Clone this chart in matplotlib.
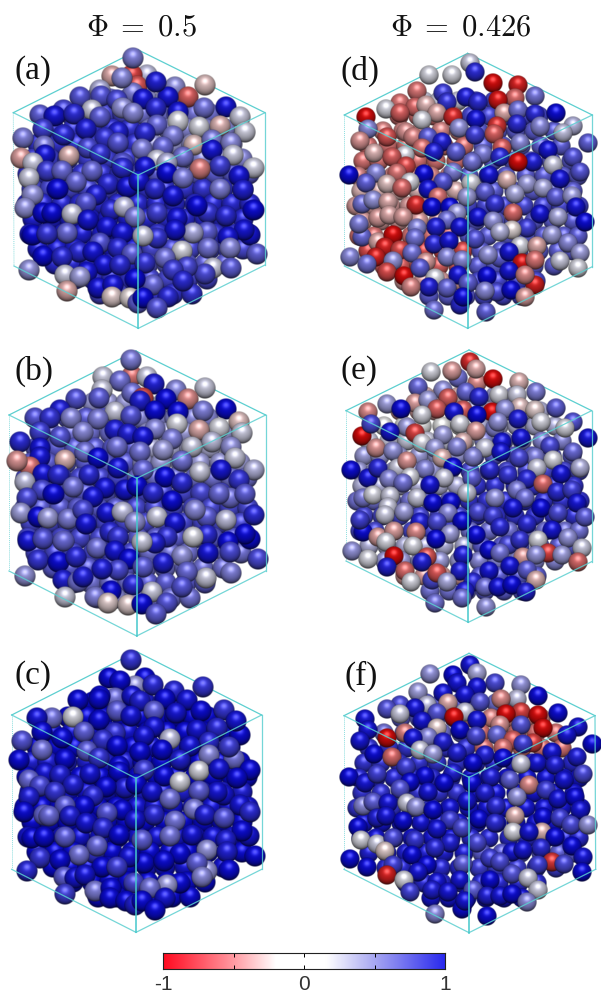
import numpy as np
import matplotlib
matplotlib.use("Agg")
import matplotlib.pyplot as plt
from matplotlib.colors import LinearSegmentedColormap

# spheres are (x, y, value) at 3x zoom, back to front
panel_a = [
    (335,228,-.25),(440,225,.15),(395,225,-.75),(525,262,.35),(412,258,-.65),(615,255,-.15),
    (300,270,.2),(400,280,.45),(565,290,-.6),(240,290,.65),(303,288,.65),(350,300,.7),(430,298,.95),(503,290,.95),
    (612,325,.5),(678,322,.95),(468,325,.85),(535,335,.95),(275,330,.1),(365,325,.35),(398,340,.4),(300,350,.6),
    (120,345,.6),(190,330,.7),(163,348,.95),(222,343,.85),
    (720,352,.1),(660,378,-.2),(735,395,.08),(535,365,.05),(598,382,.05),(472,375,.55),
    (258,388,.9),(355,395,.9),(435,400,.85),(130,388,.75),(190,405,.85),(70,415,.45),
    (520,408,.45),(582,435,-.15),(635,420,.45),(692,430,.4),(700,465,.1),
    (315,415,.8),(355,430,.65),(425,448,.45),(490,440,.55),(265,445,.7),(300,462,.8),(133,438,.45),
    (135,465,.95),(63,473,-.3),(207,468,-.2),(100,490,.1),
    (635,450,.95),(760,503,.08),(660,497,.75),(600,507,-.45),(550,470,.5),
    (365,490,.65),(470,480,.1),(500,490,.2),(365,505,.85),(435,500,.95),(500,520,1),
    (140,512,.75),(185,513,.55),(275,512,.55),(88,533,.1),(718,528,.95),(548,535,.45),
    (95,585,.35),(228,547,.55),(172,568,1),(325,553,.85),(380,560,.95),(417,543,.95),(465,566,.85),
    (660,568,.45),(730,570,.9),(288,585,.9),(257,610,.65),(518,588,.95),
    (76,625,.35),(625,640,.8),(590,618,1),(760,630,1),(678,648,.85),(332,630,.85),(372,622,.15),
    (470,638,.75),(128,640,1),(155,640,1),(215,642,.1),(265,660,.95),(405,650,.45),(530,655,.95),
    (95,705,1),(200,700,.55),(140,702,.8),(320,680,.95),(365,698,.95),(750,705,.95),(733,690,.95),
    (685,710,.95),(620,695,.6),(580,700,.25),(525,690,.95),(470,715,.8),(430,708,.1),
    (300,728,.65),(355,745,.85),(238,755,.85),(130,768,1),(185,770,.85),(280,755,.95),
    (625,745,.5),(545,752,.05),(690,745,.4),(495,775,.5),(395,762,.6),(770,762,.6),
    (435,790,.8),(88,810,.35),(640,805,.1),(692,803,.6),(615,822,.7),(312,795,.95),(360,795,.85),(262,815,.95),
    (195,825,.1),(240,830,.3),(560,800,.7),(520,810,.75),
    (460,855,.55),(295,865,.95),(338,855,.95),(405,838,1),(548,842,.85),(202,873,-.25),(335,890,-.1),(390,895,-.05),
    (505,890,.85),(415,910,.6),(430,895,1),(470,923,.65),
    (398,175,.45),(367,235,.4),(468,247,.9),
]

panel_b = [
    (310,125,.1),(395,122,-.5),(440,125,.1),(393,75,.45),(360,137,.5),
    (615,160,.1),(527,165,.4),(463,147,.9),(395,175,.5),(305,165,.1),(430,190,-.7),(565,193,-.4),(228,193,.65),(298,190,.6),(420,198,.9),(497,192,1),
    (610,228,.45),(678,222,1),(180,225,.9),(345,230,.1),(393,242,.65),(465,228,1),(533,232,1),(105,250,.65),(150,250,.8),(213,250,.4),(295,253,.45),(718,260,-.15),(530,268,.05),(465,282,.4),(657,280,.05),(597,285,-.25),(250,290,.4),(725,295,.1),(180,305,.65),(120,290,.75),(60,320,.85),(345,285,.9),(385,298,.9),(430,305,.95),
    (635,322,.15),(515,312,.45),(575,335,.1),(692,335,.35),(705,370,.1),(350,335,.5),(255,350,.5),(488,345,.3),(420,350,.5),(120,340,.95),(120,365,.95),(295,370,1),(195,375,-.2),(90,395,-.5),(50,378,-.35),
    (545,378,.5),(430,405,.55),(600,410,.1),(662,405,.95),(762,405,.2),(355,400,.95),(268,420,.85),(130,418,.95),(175,420,.85),(75,440,.15),(495,427,1),(545,445,.85),(717,435,.8),
    (218,455,.5),(315,460,.95),(375,465,.95),(410,452,1),(125,465,.7),(278,487,.95),(160,477,1),(460,475,.85),(515,497,1),(82,490,.7),(690,490,.5),(657,477,.55),(735,477,.6),
    (62,533,.3),(115,545,1),(143,548,.3),(205,553,.45),(250,525,.7),(320,535,.95),(365,530,.15),(470,545,.1),(620,545,.6),(585,525,.4),(762,540,.85),(678,555,.15),(405,562,.35),(525,565,.95),(257,568,.95),
    (85,618,.95),(128,612,.65),(190,618,.55),(290,640,.5),(330,590,.85),(355,605,.8),(500,605,.8),(750,612,1),(735,597,1),(685,620,1),(620,600,.85),(580,605,.05),(465,625,.9),(425,620,.1),
    (115,675,.8),(175,682,1),(228,665,.85),(345,648,.95),(388,672,1),(545,662,.35),(625,655,.95),(690,650,.7),(490,685,.9),(430,695,.6),(773,672,.7),(355,705,.7),(305,703,.9),
    (75,722,.35),(188,735,.9),(235,742,.5),(250,727,.9),(692,715,.45),(618,730,.1),(560,710,.55),(455,770,.1),(398,750,.85),(333,768,1),(545,755,.65),(195,785,.1),(285,785,.45),(500,805,.65),(325,805,-.1),(385,810,-.1),(425,808,1),(467,838,.6),
]

panel_c = [
    (325,115,1),(435,115,1),(405,140,.3),(360,123,1),(458,135,.85),(607,143,.8),(392,62,.8),
    (520,155,.85),(345,175,.5),(395,170,.95),(420,185,.9),(495,178,1),(232,180,1),(298,170,1),(560,180,.95),(295,178,1),
    (672,212,.8),(603,215,1),(527,220,.95),(460,215,.6),(350,215,.6),(392,230,.95),(155,235,.5),(217,232,.05),(110,235,.95),(720,285,1),(708,245,.95),(295,240,1),
    (590,270,.95),(650,265,.85),(462,262,.95),(250,278,.6),(345,280,.8),(430,290,.95),(125,277,1),(510,298,.15),(65,305,.65),(185,295,1),(308,302,.8),(625,307,.85),
    (700,358,.5),(625,345,.4),(685,322,.75),(125,330,.5),(260,335,.6),(350,320,1),(420,337,1),(485,330,1),(570,320,.95),(297,355,.8),(195,357,1),(57,362,1),
    (540,362,.9),(750,390,1),(595,395,.05),(655,388,.95),(430,390,.75),(357,380,1),(355,398,1),(490,410,1),(710,415,1),(133,400,.95),(180,405,.9),(270,403,.95),(85,422,.55),
    (540,428,.05),(375,445,.9),(408,433,1),(218,435,.9),(318,443,1),(455,457,.95),(672,465,.95),(650,458,.95),(120,440,.7),(165,458,.8),(87,472,.9),(278,470,.85),(595,455,.6),(510,478,.5),
    (580,508,.45),(720,495,.95),(250,500,1),(195,500,.6),(70,517,1),(365,512,1),(130,525,.55),(145,530,.55),(210,530,.9),(460,525,.85),(320,520,.65),(750,518,.85),(615,525,.9),(670,535,.65),
    (523,545,.5),(258,550,.95),(405,540,.95),(95,595,1),(130,592,1),(195,592,.6),(308,565,.85),(357,587,1),(745,590,.95),(725,575,1),(575,585,.95),(425,600,.6),(510,590,.5),(677,600,.9),
    (280,640,.8),(290,618,.55),(620,632,.35),(235,645,.5),(680,638,.9),(540,642,1),(120,655,.8),(180,660,1),(430,670,1),(385,652,.95),(490,665,1),(763,650,1),
    (305,682,1),(350,682,.75),(620,695,.35),(590,670,.6),(605,712,.4),(685,692,1),(540,730,1),(80,695,.85),(190,712,.6),(225,715,.95),(255,705,.95),(500,735,.3),(400,730,.7),(450,745,.5),
    (285,755,.45),(333,745,1),(195,762,.75),(330,775,1),(378,785,1),(495,775,.95),(405,795,.9),(425,785,1),(463,812,1),
]

panel_d = [
    (510,190,.1),(387,225,.05),(455,225,.05),(525,217,.85),(578,250,-1),(655,255,-.9),(352,272,-.5),(430,280,.75),(440,305,.8),(497,290,.9),(705,288,.5),(535,305,.85),(645,295,-.55),(595,300,-.95),
    (300,310,-.5),(258,328,.05),(345,322,-.55),(300,340,-.6),(378,315,-.2),(410,338,-.25),(612,340,-.25),(655,330,.5),(705,342,.85),(767,338,1),(197,352,-1),(365,360,.05),(458,350,-.85),(527,358,.95),
    (590,378,-.8),(652,372,.85),(720,380,.4),(820,378,.2),(790,400,.15),(865,428,.6),(205,387,.4),
    (477,385,.35),(583,402,-.6),(525,405,.75),(180,422,-.35),(262,410,-.65),(318,395,-.35),(340,412,-.4),(385,410,.6),(425,425,.9),
    (660,428,.4),(745,450,.95),(605,445,-.6),(365,445,-.5),(222,458,-.2),(315,465,.05),(275,470,-.6),(403,457,.9),(467,457,.6),
    (820,470,.65),(700,485,.9),(550,462,.45),(600,470,.85),(515,485,.5),(655,485,-1),(318,497,-.7),(760,495,.1),
    (148,525,1),(228,518,.4),(840,517,.65),(292,520,-.5),(460,515,.45),(372,523,1),(568,525,.95),(622,540,-.2),(780,538,.95),
    (197,548,.6),(260,552,-.15),(330,545,.05),(430,547,.65),(512,548,.05),(305,565,-.55),(385,568,.95),(680,552,.3),(728,565,.25),(555,575,.6),
    (185,612,.5),(218,600,.35),(265,605,-.25),(645,582,.25),(768,590,.6),(815,587,.3),(500,590,.3),(415,590,-.5),(585,612,.8),(828,622,.95),(347,615,-.85),(395,622,1),(450,620,1),
    (640,640,-.55),(720,642,.95),(235,655,-.3),(268,645,-.25),(310,652,-.3),(470,640,.3),(535,650,.95),(440,660,.5),(578,662,.35),(773,652,.25),(855,665,1),
    (185,710,.55),(177,673,.45),(352,683,.4),(408,680,.9),(480,680,.95),(680,685,.75),(635,690,-.05),(600,695,.2),(235,725,-.25),(278,705,-1),(345,715,.5),(755,705,.3),
    (525,718,.65),(403,733,.85),(447,722,.95),(805,730,.4),(660,738,.05),(712,738,-.25),(255,742,-.9),(840,760,.3),(300,750,-.7),
    (228,770,-.9),(150,770,.4),(200,792,.5),(335,760,.5),(280,783,.35),(377,785,-.3),(440,770,.4),(485,780,.4),(600,775,.6),(563,765,.35),(628,757,.95),(665,790,-.95),(705,780,-.5),(780,783,.1),(833,803,.05),
    (260,815,-.7),(313,828,-1),(360,805,.6),(405,835,.05),(475,825,.95),(562,828,1),(628,812,.95),(705,855,-.9),(675,825,-.4),
    (387,860,.9),(332,860,-.4),(440,865,.55),(505,850,.6),(590,875,.7),(555,873,.4),(632,870,1),(675,892,-.3),(480,915,.85),(490,890,1),(403,930,.5),(557,935,.6),
]

panel_e = [
    (510,80,-.85),(392,110,.05),(475,130,.5),(457,108,-.3),(530,145,-.4),(528,103,-.25),(580,132,-1),(658,140,-.2),(355,155,.55),(430,165,.35),(445,190,-.6),(498,170,.55),(708,170,.45),(598,180,.05),(650,180,.1),(538,187,.85),
    (345,205,-.3),(262,207,.3),(385,195,.3),(412,222,-.6),(303,223,1),(490,225,-.6),(575,230,-1),(660,215,-.15),(705,225,-.1),(615,222,.35),(768,220,.6),(203,232,-.4),(463,232,.95),(530,240,1),(367,240,.05),
    (820,260,.65),(655,252,.9),(585,280,.4),(595,262,.35),(723,260,.05),(480,267,.05),(528,287,-.3),(320,275,.3),(185,302,-1),(212,267,.7),(270,290,.95),(345,295,-.75),(795,280,.05),(430,300,.3),(865,310,.95),
    (662,310,.95),(607,322,.95),(228,340,-.35),(280,348,.35),(365,325,.05),(490,320,-.2),(405,340,.3),(470,337,.4),(750,332,.7),(555,340,.1),(820,350,.55),(602,350,.95),(425,370,-.2),(520,365,.4),(705,365,.45),(657,368,.7),
    (760,375,.05),(295,400,.1),(320,377,-.35),(153,405,1),(205,430,.95),(233,400,.85),(375,403,.4),(460,395,1),(570,405,.85),(710,400,.1),(840,398,.2),(625,420,.8),(682,432,.85),(730,447,-.55),
    (268,432,.4),(330,425,.05),(433,428,.1),(515,428,.6),(782,418,.95),(310,445,.5),(390,450,.95),(650,465,.45),(500,475,.1),(770,472,.85),(815,465,.75),(585,490,.35),
    (190,490,.45),(220,480,.05),(270,483,.1),(350,490,.1),(265,515,.1),(400,503,1),(453,500,1),(830,505,.95),(675,490,.5),(535,530,.7),(640,520,.95),(722,520,1),(775,533,.7),(255,540,.1),(313,532,.3),(445,535,.4),
    (190,590,1),(180,555,.75),(855,545,.6),(360,560,.9),(410,560,.7),(485,558,1),(578,543,.75),(600,575,.85),(680,568,.85),(755,585,.95),(235,605,-.3),(283,587,-.3),(347,592,-.4),(527,600,1),(450,598,.3),(407,613,1),(805,608,.35),(625,630,.7),
    (258,622,.05),(660,615,.8),(715,615,.05),(338,632,.05),(155,648,.35),(845,640,.1),(567,645,1),(490,660,.9),(205,672,.05),(283,662,-1),(382,665,-.65),(745,653,-.75),(670,665,-.3),(708,660,.35),(785,660,.3),(600,655,.5),(835,682,-.55),
    (365,680,.9),(262,695,.9),(315,708,-.55),(630,692,.95),(680,705,.6),(568,708,.95),(395,735,.7),(410,715,-.65),(480,708,.9),(708,735,-.2),(333,740,.05),(442,742,.25),(520,740,.85),(555,755,.5),(595,755,.95),(635,750,1),(678,770,.9),(495,768,.9),
    (485,790,.5),(405,805,.5),(558,815,.35),
]

panel_f = [
    (510,75,.95),(390,103,.35),(460,105,1),(530,98,.25),(470,130,.95),(585,130,.7),(530,140,.95),(663,135,.35),(355,155,.3),(430,160,.95),(495,165,.95),(650,178,.15),(715,168,1),(443,188,-.25),(603,178,-.4),(540,187,.65),(300,195,.7),(380,195,.15),(262,207,.65),(345,205,.95),(495,215,.1),(775,220,1),(662,215,-.75),(617,222,-1),(713,225,-1),(412,220,.65),
    (195,238,.95),(300,222,.1),(463,232,-1),(365,242,.95),(530,240,.95),(835,262,.95),(600,255,-.35),(662,255,.65),(728,265,-1),(205,270,.95),(315,280,-.45),(410,265,-.1),(480,270,1),(590,285,.55),(527,287,.7),(800,285,.95),(180,303,.95),(262,295,-1),(385,290,.4),(340,295,.95),(700,310,-.75),(640,300,-.6),(875,312,1),(430,305,.9),
    (610,325,-.5),(668,312,.75),(755,335,.95),(360,330,.1),(400,342,.3),(470,340,.9),(222,343,1),(275,352,-.55),(555,345,.9),(830,352,.9),(610,353,1),(520,368,1),(318,380,.75),(710,370,.95),(662,372,.1),(765,375,.9),
    (147,410,1),(195,430,.95),(230,403,.75),(375,408,1),(460,400,.9),(572,410,.9),(850,402,.7),(792,420,.95),(330,427,1),(432,428,1),(687,435,-.4),(630,420,.6),(517,430,1),(300,448,.65),(737,450,.75),(385,455,.95),(555,460,.9),(775,478,.95),(826,472,1),(650,470,.35),(500,482,.95),
    (190,497,.4),(220,487,.6),(265,490,.95),(320,490,.1),(347,500,.35),(450,505,.95),(400,510,1),(588,498,.85),(840,510,.95),(230,535,.9),(258,528,.95),(645,527,-.2),(728,530,1),(537,537,1),(310,542,1),(780,535,.75),(812,555,.7),(865,555,.35),
    (450,540,.75),(585,550,.85),(175,562,1),(410,567,.95),(485,565,.7),(640,575,.05),(725,575,-.2),(688,575,.95),(765,592,1),(183,600,.05),(232,612,.1),(280,595,.7),(345,600,.8),(255,632,-.1),(530,608,.7),(450,608,.9),(815,618,1),(722,625,.85),(405,625,.85),
    (150,658,1),(850,650,.95),(635,635,.95),(670,630,.95),(335,645,1),(570,655,.75),(755,665,-.8),(792,672,.7),(200,682,1),(280,675,.75),(380,675,1),(600,665,.7),(490,672,.6),(715,675,.75),(845,695,1),
    (260,705,-.9),(355,695,.95),(312,720,.05),(635,703,.65),(685,715,.1),(570,720,1),(480,720,.95),(410,725,.95),(715,750,.1),(330,755,.75),(395,750,.9),(445,755,.95),(520,750,.6),(560,768,.9),(600,768,.95),(637,762,1),(682,785,.4),(487,808,1),(495,782,.95),(405,822,.4),(562,828,1),
]

# the spheres behind, only seen through the gaps: rows of (y, x list) around the box middle
back_rows = [
    (-270, [-130,-85,-30,25,80,135]),
    (-225, [-205,-150,-100,-45,10,65,115,170,215]),
    (-180, [-255,-195,-140,-80,-25,35,90,145,200,260]),
    (-135, [-300,-240,-185,-125,-70,-10,45,105,160,220,280]),
    (-90, [-315,-265,-210,-150,-95,-35,20,75,135,190,250,310]),
    (-45, [-330,-280,-225,-170,-110,-55,5,60,115,175,230,285,330]),
    (0, [-320,-265,-205,-150,-90,-35,25,80,140,195,255,315]),
    (45, [-335,-285,-230,-175,-115,-60,0,55,110,170,225,280,335]),
    (90, [-315,-260,-205,-145,-90,-30,25,85,140,200,255,315]),
    (135, [-325,-280,-225,-170,-110,-55,5,60,120,175,230,290,330]),
    (180, [-300,-245,-190,-130,-75,-15,40,100,155,215,270,315]),
    (225, [-250,-200,-145,-85,-30,30,85,145,200,260]),
    (270, [-190,-135,-80,-25,35,90,150,205]),
    (315, [-115,-60,-5,50,105,160]),
]
# value of the hidden spheres per row: (left half, right half)
back_a = [(.5,.3),(.7,.5),(.8,.4),(.8,.3),(.75,.4),(.8,.6),(.7,.8),(.85,.85),(.9,.85),(.9,.8),(.9,.7),(.85,.6),(.8,.7),(.7,.8)]
back_b = [(.3,.2),(.6,.4),(.5,.3),(.6,.2),(.6,.3),(.7,.5),(.6,.7),(.6,.7),(.7,.7),(.7,.6),(.7,.5),(.6,.5),(.5,.6),(.4,.5)]
back_c = [(1,.9),(1,1),(.95,1),(1,.95),(.9,1),(1,1),(.95,.9),(1,.95),(1,1),(.95,.95),(1,1),(1,.95),(1,1),(1,1)]
back_d = [(.1,.7),(-.5,.7),(-.4,.6),(-.5,.6),(-.5,.6),(-.4,.6),(-.2,.6),(-.3,.7),(-.3,.6),(-.5,.6),(-.7,.6),(-.6,.6),(-.3,.7),(.6,.7)]
back_e = [(-.2,.3),(-.3,.2),(0,.2),(.1,.4),(.3,.6),(.3,.7),(.2,.8),(.5,.8),(.7,.8),(.7,.5),(.2,.6),(.3,.4),(-.3,.6),(.5,.6)]
back_f = [(.6,.5),(.6,-.4),(.5,-.5),(.8,-.5),(.8,.85),(.85,.95),(.8,.95),(.8,.95),(.95,.95),(.95,.85),(.9,.6),(.85,.75),(.85,.85),(.95,.95)]

# crop origin, box corners (top, left top, right top, centre, left bottom, right bottom, bottom)
panels = {
    "a": (panel_a, back_a, (0, 0), (415,150, 40,338, 795,338, 415,525, 42,798, 795,795, 415,985), 33),
    "b": (panel_b, back_b, (0, 335), (408,48, 27,240, 797,240, 410,430, 27,708, 797,708, 410,903), 33),
    "c": (panel_c, back_c, (0, 640), (410,35, 35,225, 785,225, 408,415, 35,688, 785,688, 408,877), 32),
    "d": (panel_d, back_d, (300, 0), (503,160, 133,345, 877,345, 503,525, 133,798, 877,800, 503,985), 30),
    "e": (panel_e, back_e, (300, 335), (507,45, 138,227, 875,227, 505,410, 138,678, 875,680, 505,862), 30),
    "f": (panel_f, back_f, (300, 640), (507,40, 132,227, 885,227, 507,412, 132,688, 887,688, 507,878), 30),
}
panel_labels = {"a": (15, 71), "b": (15, 371), "c": (15, 676), "d": (341, 71), "e": (341, 371), "f": (345, 676)}
titles = [(r"$\Phi\;=\;0.5$", 141, 27), (r"$\Phi\;=\;0.426$", 461, 27)]

cbar_ticks = [-1, -0.5, 0, 0.5, 1]
cbar_ticklabels = ["-1", "", "0", "", "1"]
cbar_cmap = LinearSegmentedColormap.from_list(
    "rwb",
    [(0, "#ff0a20"), (0.25, "#ff9aa2"), (0.40, "#ffffff"), (0.58, "#ffffff"), (0.75, "#a8a8f2"), (1, "#2a2aee")],
)
BOX_COLOR = "#5ccfd0"


def sphere_sprite(value, size=44):
    """Shaded ball in the VMD look: dark rim, highlight above the middle."""
    if value >= 0:
        base = np.array([1 - 0.95 * value, 1 - 0.95 * value, 1 - 0.05 * value])
    else:
        base = np.array([1 + 0.05 * value, 1 + 0.95 * value, 1 + 0.95 * value])
    coords = np.linspace(-1, 1, size)
    xx, yy = np.meshgrid(coords, coords)
    rr = np.sqrt(xx**2 + yy**2)
    nz = np.sqrt(np.clip(1 - rr**2, 0, 1))
    diffuse = np.clip(-0.38 * yy + 0.92 * nz, 0, 1)
    spec = diffuse**22 * 0.36
    shade = 0.22 + 0.62 * diffuse**0.8
    rgb = np.clip(base[None, None, :] * shade[..., None] + spec[..., None], 0, 1)
    alpha = np.clip((1 - rr) * size / 2, 0, 1)
    return np.dstack([rgb, alpha])


fig = plt.figure(figsize=(6.01, 9.92), dpi=100)
ax = fig.add_axes([0, 0, 1, 1])
ax.axis("off")

sprites = {}


def draw_sphere(px, py, r, v, z):
    if v not in sprites:
        sprites[v] = sphere_sprite(v)
    ax.imshow(sprites[v], extent=(px - r, px + r, py + r, py - r), origin="upper",
              interpolation="bilinear", aspect="auto", zorder=z)


for name, (spheres, back, origin, box, radius) in panels.items():
    ox, oy = origin
    pts = [(ox + box[i] / 3, oy + box[i + 1] / 3) for i in range(0, 14, 2)]
    top, ltop, rtop, centre, lbot, rbot, bottom = pts
    mid_x, mid_y = (box[0] + box[12]) / 2, (box[1] + box[13]) / 2

    # back edges go under the spheres
    for p, q in [(top, ltop), (top, rtop)]:
        ax.plot([p[0], q[0]], [p[1], q[1]], color=BOX_COLOR, lw=0.9, zorder=1)
    ax.plot([ltop[0], lbot[0]], [ltop[1], lbot[1]], color=BOX_COLOR, lw=0.7, ls=(0, (1, 1)), alpha=0.7, zorder=1)

    r = radius / 3
    for (row_y, row_x), (left, right) in zip(back_rows, back):
        for x in row_x:
            draw_sphere(ox + (mid_x + x) / 3, oy + (mid_y + row_y) / 3, r, left if x < 0 else right, 1.5)
    for i, (x, y, v) in enumerate(spheres):
        draw_sphere(ox + x / 3, oy + y / 3, r, v, 2 + i * 1e-3)

    for p, q in [(ltop, centre), (rtop, centre), (lbot, bottom), (rbot, bottom), (rtop, rbot)]:
        ax.plot([p[0], q[0]], [p[1], q[1]], color=BOX_COLOR, lw=0.9, alpha=0.85, zorder=4)
    ax.plot([centre[0], bottom[0]], [centre[1], bottom[1]], color="#45c8cc", lw=1.1, zorder=4)

    lx, ly = panel_labels[name]
    ax.text(lx, ly, f"({name})", family="Liberation Serif", fontsize=24, ha="left", va="center", color="#111111", zorder=5)

for txt, x, y in titles:
    ax.text(x, y, txt, math_fontfamily="cm", fontsize=22, ha="center", va="center", color="#111111", zorder=5)

ax.set_xlim(0, 601)
ax.set_ylim(992, 0)

# colour bar
cax = fig.add_axes([163 / 601, 1 - 969 / 992, 282 / 601, 16 / 992])
gradient = np.linspace(-1, 1, 256)[None, :]
cax.imshow(gradient, cmap=cbar_cmap, aspect="auto", extent=(-1, 1, 0, 1), vmin=-1, vmax=1)
cax.set_yticks([])
cax.set_xticks(cbar_ticks)
cax.set_xticklabels(cbar_ticklabels, family="Liberation Sans", fontsize=15, color="#333333")
cax.tick_params(axis="x", direction="in", length=3, width=0.7, top=True, pad=4)
for spine in cax.spines.values():
    spine.set_linewidth(0.8)
    spine.set_color("#222222")

fig.savefig("out.png", dpi=100)
